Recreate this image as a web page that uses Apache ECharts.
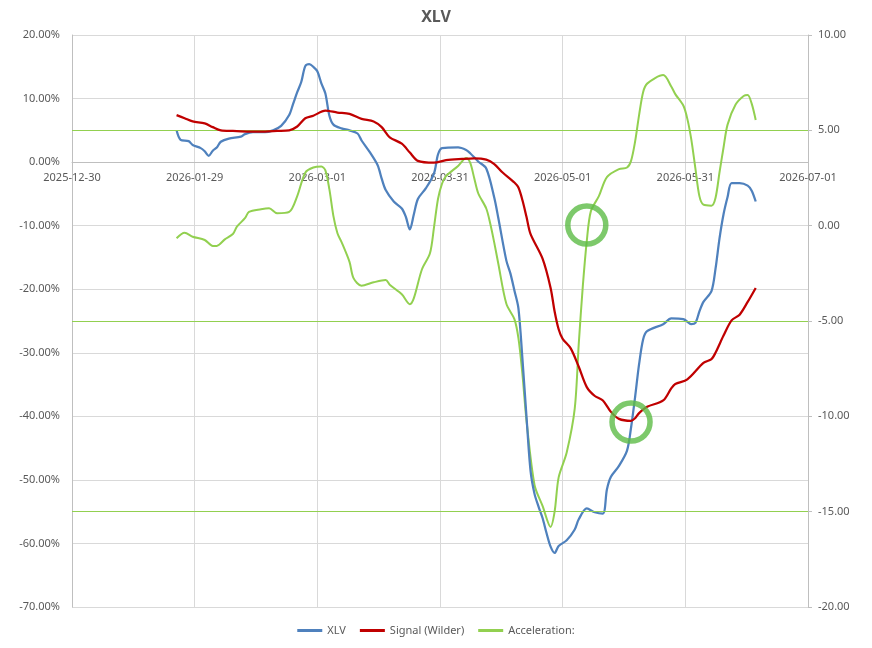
<!DOCTYPE html>
<html lang="en">
<head>
  <meta charset="UTF-8">
  <title>XLV</title>
  <style>
    html, body { margin: 0; padding: 0; background: #fff; }
    #chart { width: 872px; height: 648px; }
  </style>
</head>
<body>
  <div id="chart"></div>
  <script src="https://cdn.jsdelivr.net/npm/echarts@6/dist/echarts.min.js"></script>
  <script>
    // XLV (percent, left axis)
    const xlvDates = ['2026-01-25', '2026-01-26', '2026-01-28', '2026-01-29', '2026-01-31', '2026-02-01', '2026-02-02', '2026-02-03', '2026-02-04', '2026-02-05', '2026-02-07', '2026-02-10', '2026-02-11', '2026-02-13', '2026-02-16', '2026-02-18', '2026-02-20', '2026-02-22', '2026-02-23', '2026-02-24', '2026-02-25', '2026-02-26', '2026-02-27', '2026-02-28', '2026-03-01', '2026-03-02', '2026-03-03', '2026-03-04', '2026-03-05', '2026-03-07', '2026-03-09', '2026-03-11', '2026-03-12', '2026-03-14', '2026-03-16', '2026-03-17', '2026-03-18', '2026-03-20', '2026-03-22', '2026-03-23', '2026-03-24', '2026-03-25', '2026-03-26', '2026-03-28', '2026-03-30', '2026-03-31', '2026-04-01', '2026-04-05', '2026-04-07', '2026-04-08', '2026-04-10', '2026-04-12', '2026-04-14', '2026-04-15', '2026-04-17', '2026-04-18', '2026-04-19', '2026-04-20', '2026-04-21', '2026-04-22', '2026-04-23', '2026-04-24', '2026-04-25', '2026-04-26', '2026-04-27', '2026-04-28', '2026-04-29', '2026-04-30', '2026-05-02', '2026-05-04', '2026-05-05', '2026-05-07', '2026-05-09', '2026-05-11', '2026-05-12', '2026-05-13', '2026-05-15', '2026-05-17', '2026-05-18', '2026-05-19', '2026-05-20', '2026-05-21', '2026-05-22', '2026-05-26', '2026-05-28', '2026-05-31', '2026-06-02', '2026-06-03', '2026-06-04', '2026-06-05', '2026-06-07', '2026-06-08', '2026-06-09', '2026-06-10', '2026-06-11', '2026-06-12', '2026-06-14', '2026-06-16', '2026-06-17', '2026-06-18'];
    const xlvValues = [5.0, 3.5, 3.3, 2.7, 2.2, 1.7, 1.0, 1.8, 2.3, 3.2, 3.7, 4.0, 4.4, 4.7, 4.7, 5.0, 5.7, 7.4, 9.2, 11.0, 12.6, 15.1, 15.4, 15.0, 14.3, 12.4, 10.8, 7.3, 5.9, 5.3, 5.0, 4.5, 3.4, 1.6, -0.5, -2.6, -4.4, -6.2, -7.3, -8.6, -10.6, -8.2, -5.8, -4.1, -1.8, 1.2, 2.2, 2.3, 1.9, 1.4, 0.1, -1.0, -5.6, -8.8, -15.5, -17.5, -20.2, -23.0, -31.0, -40.0, -48.5, -52.2, -54.2, -56.0, -58.4, -60.5, -61.5, -60.4, -59.5, -57.8, -56.2, -54.5, -55.1, -55.3, -51.5, -49.5, -47.8, -45.4, -41.8, -37.0, -31.8, -27.9, -26.6, -25.5, -24.6, -24.7, -25.5, -25.3, -23.5, -22.0, -20.3, -16.8, -12.0, -8.2, -5.5, -3.3, -3.3, -3.7, -4.5, -6.2];

    // Signal (Wilder) (percent, left axis)
    const signalDates = ['2026-01-25', '2026-01-27', '2026-01-29', '2026-02-01', '2026-02-03', '2026-02-05', '2026-02-08', '2026-02-12', '2026-02-16', '2026-02-19', '2026-02-22', '2026-02-24', '2026-02-26', '2026-02-28', '2026-03-03', '2026-03-06', '2026-03-09', '2026-03-12', '2026-03-15', '2026-03-17', '2026-03-19', '2026-03-22', '2026-03-24', '2026-03-26', '2026-03-30', '2026-04-02', '2026-04-06', '2026-04-09', '2026-04-12', '2026-04-14', '2026-04-16', '2026-04-19', '2026-04-20', '2026-04-21', '2026-04-22', '2026-04-23', '2026-04-26', '2026-04-28', '2026-04-29', '2026-04-30', '2026-05-01', '2026-05-03', '2026-05-05', '2026-05-07', '2026-05-09', '2026-05-11', '2026-05-13', '2026-05-15', '2026-05-18', '2026-05-19', '2026-05-20', '2026-05-22', '2026-05-26', '2026-05-28', '2026-05-29', '2026-06-01', '2026-06-05', '2026-06-07', '2026-06-08', '2026-06-10', '2026-06-12', '2026-06-14', '2026-06-16', '2026-06-18'];
    const signalValues = [7.4, 6.9, 6.4, 6.1, 5.5, 5.0, 4.9, 4.8, 4.8, 4.9, 5.0, 5.6, 6.9, 7.3, 8.1, 7.8, 7.6, 6.8, 6.4, 5.5, 3.9, 2.9, 1.5, 0.2, -0.1, 0.3, 0.5, 0.6, 0.4, -0.3, -1.6, -3.2, -4.0, -6.0, -8.6, -11.3, -15.2, -19.8, -23.5, -26.3, -27.8, -29.3, -32.2, -35.4, -36.8, -37.5, -39.3, -40.4, -40.7, -40.3, -39.5, -38.5, -37.5, -35.6, -34.9, -34.2, -31.6, -31.0, -30.0, -27.3, -24.9, -24.0, -22.0, -19.8];

    // Acceleration: (right axis)
    const accelDates = ['2026-01-25', '2026-01-27', '2026-01-29', '2026-02-01', '2026-02-03', '2026-02-04', '2026-02-06', '2026-02-08', '2026-02-09', '2026-02-11', '2026-02-12', '2026-02-15', '2026-02-17', '2026-02-19', '2026-02-22', '2026-02-24', '2026-02-26', '2026-02-28', '2026-03-02', '2026-03-03', '2026-03-04', '2026-03-05', '2026-03-06', '2026-03-07', '2026-03-09', '2026-03-10', '2026-03-12', '2026-03-15', '2026-03-18', '2026-03-19', '2026-03-22', '2026-03-24', '2026-03-25', '2026-03-27', '2026-03-29', '2026-03-30', '2026-03-31', '2026-04-01', '2026-04-02', '2026-04-05', '2026-04-07', '2026-04-08', '2026-04-09', '2026-04-10', '2026-04-12', '2026-04-13', '2026-04-14', '2026-04-15', '2026-04-17', '2026-04-19', '2026-04-20', '2026-04-21', '2026-04-22', '2026-04-24', '2026-04-26', '2026-04-28', '2026-04-29', '2026-04-30', '2026-05-02', '2026-05-04', '2026-05-05', '2026-05-06', '2026-05-07', '2026-05-08', '2026-05-10', '2026-05-12', '2026-05-15', '2026-05-17', '2026-05-18', '2026-05-19', '2026-05-20', '2026-05-21', '2026-05-22', '2026-05-26', '2026-05-28', '2026-05-29', '2026-05-31', '2026-06-01', '2026-06-02', '2026-06-03', '2026-06-04', '2026-06-05', '2026-06-07', '2026-06-08', '2026-06-09', '2026-06-10', '2026-06-11', '2026-06-13', '2026-06-15', '2026-06-16', '2026-06-17', '2026-06-18'];
    const accelValues = [-0.66, -0.37, -0.58, -0.75, -1.06, -1.06, -0.72, -0.44, -0.05, 0.39, 0.72, 0.86, 0.91, 0.65, 0.72, 1.55, 2.78, 3.05, 3.10, 2.90, 1.90, 0.50, -0.40, -0.85, -1.90, -2.75, -3.15, -2.97, -2.85, -3.10, -3.60, -4.12, -3.80, -2.30, -1.45, -0.10, 1.40, 2.20, 2.60, 3.13, 3.55, 3.30, 2.50, 1.70, 0.90, 0.10, -0.90, -2.00, -4.10, -4.90, -5.90, -7.80, -10.20, -13.60, -14.70, -15.80, -15.00, -13.20, -11.90, -9.60, -6.20, -3.20, -0.80, 0.75, 1.55, 2.55, 2.97, 3.05, 3.40, 4.40, 5.80, 7.00, 7.45, 7.90, 7.30, 6.90, 6.30, 5.60, 4.50, 3.00, 1.55, 1.10, 1.05, 1.45, 2.80, 4.10, 5.30, 6.35, 6.80, 6.85, 6.40, 5.54];

    // reference levels for Acceleration (right axis)
    const accelLevels = [5, -5, -15];

    // highlighted crossings (green circles), on left axis
    const circleDates = ['2026-05-07', '2026-05-18'];
    const circleValues = [-9.9, -40.9];

    const startDate = Date.UTC(2025, 11, 30);
    const DAY = 86400000;

    function toDay(s) {
      const p = s.split('-').map(Number);
      return (Date.UTC(p[0], p[1] - 1, p[2]) - startDate) / DAY;
    }
    function dayLabel(v) {
      return new Date(startDate + v * DAY).toISOString().slice(0, 10);
    }
    function pairs(dates, values) {
      return dates.map((d, i) => [toDay(d), values[i]]);
    }

    const textColor = '#595959';
    const font = 'Noto Sans';

    // plot area and left-axis range, used to put the date axis on the 0% line
    const gridTop = 35, gridBottom = 41, plotHeight = 648 - gridTop - gridBottom;
    const leftMin = -70, leftMax = 20;
    const zeroOffset = -plotHeight * (0 - leftMin) / (leftMax - leftMin);

    const chart = echarts.init(document.getElementById('chart'));
    chart.setOption({
      animation: false,
      title: {
        text: 'XLV',
        left: 'center',
        top: 4,
        textStyle: { fontFamily: font, fontSize: 16, fontWeight: 'bold', color: textColor }
      },
      legend: {
        bottom: 7,
        left: 'center',
        data: ['XLV', 'Signal (Wilder)', 'Acceleration:'],
        icon: 'rect',
        itemWidth: 25,
        itemHeight: 3,
        itemGap: 14,
        textStyle: { fontFamily: font, fontSize: 11, color: textColor }
      },
      grid: { left: 72, right: 64, top: gridTop, bottom: gridBottom },
      xAxis: {
        type: 'value',
        min: 0,
        max: 183,
        interval: 30.5,
        position: 'bottom',
        offset: zeroOffset,
        axisLine: { onZero: false, lineStyle: { color: '#bfbfbf', width: 1 } },
        axisTick: { show: false },
        axisLabel: {
          formatter: dayLabel,
          color: textColor,
          fontFamily: font,
          fontSize: 11,
          margin: 10,
          showMinLabel: true,
          showMaxLabel: true
        },
        splitLine: { show: true, lineStyle: { color: '#d9d9d9', width: 1 } }
      },
      yAxis: [
        {
          type: 'value',
          min: leftMin,
          max: leftMax,
          interval: 10,
          axisLine: { show: true, onZero: false, lineStyle: { color: '#bfbfbf' } },
          axisTick: { show: false },
          axisLabel: {
            formatter: v => v.toFixed(2) + '%',
            color: textColor,
            fontFamily: font,
            fontSize: 11,
            margin: 12
          },
          splitLine: { show: true, lineStyle: { color: '#d9d9d9', width: 1 } }
        },
        {
          type: 'value',
          min: -20,
          max: 10,
          interval: 5,
          position: 'right',
          axisLine: { show: true, onZero: false, lineStyle: { color: '#bfbfbf' } },
          axisTick: { show: true, length: 4, lineStyle: { color: '#bfbfbf' } },
          axisLabel: {
            formatter: v => v.toFixed(2),
            color: textColor,
            fontFamily: font,
            fontSize: 11,
            margin: 10
          },
          splitLine: { show: false }
        }
      ],
      series: [
        {
          name: 'XLV',
          type: 'line',
          yAxisIndex: 0,
          data: pairs(xlvDates, xlvValues),
          symbol: 'none',
          smooth: 0.3,
          z: 4,
          itemStyle: { color: '#4f81bd' },
          lineStyle: { color: '#4f81bd', width: 2.25 }
        },
        {
          name: 'Signal (Wilder)',
          type: 'line',
          yAxisIndex: 0,
          data: pairs(signalDates, signalValues),
          symbol: 'none',
          smooth: 0.3,
          z: 5,
          itemStyle: { color: '#c00000' },
          lineStyle: { color: '#c00000', width: 2.25 }
        },
        {
          name: 'Acceleration:',
          type: 'line',
          yAxisIndex: 1,
          data: pairs(accelDates, accelValues),
          symbol: 'none',
          smooth: 0.3,
          z: 3,
          itemStyle: { color: '#92d050' },
          lineStyle: { color: '#92d050', width: 2 },
          markLine: {
            silent: true,
            symbol: 'none',
            label: { show: false },
            lineStyle: { color: '#92d050', width: 1, type: 'solid' },
            data: accelLevels.map(v => ({ yAxis: v }))
          }
        },
        {
          name: 'circles',
          type: 'scatter',
          yAxisIndex: 0,
          data: pairs(circleDates, circleValues),
          symbol: 'circle',
          symbolSize: 38,
          z: 6,
          itemStyle: { color: 'rgba(0,0,0,0)', borderColor: '#5dbb46', borderWidth: 5.5 }
        }
      ]
    });
  </script>
</body>
</html>
